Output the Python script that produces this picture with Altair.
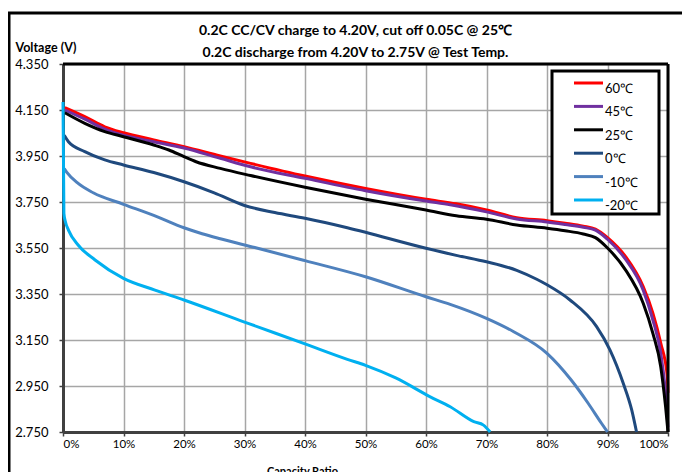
import altair as alt
import pandas as pd

# ---------------- data ----------------
series_names = ["60℃", "45℃", "25℃", "0℃", "-10℃", "-20℃"]
series_colors = ["#FF0000", "#7030A0", "#000000", "#1F497D", "#4F81BD", "#00B0F0"]

cap_60 = [0.3, 3.6, 6.9, 10, 15, 20, 26, 31, 40, 50, 60, 65, 70, 75, 80, 83, 86, 88, 90, 93, 95.9, 97.5, 98.8, 99.9, 100]
v_60 = [4.160, 4.121, 4.077, 4.051, 4.020, 3.990, 3.950, 3.918, 3.863, 3.809, 3.762, 3.742, 3.715, 3.682, 3.669, 3.658, 3.645, 3.632, 3.595, 3.512, 3.382, 3.267, 3.137, 2.990, 2.920]

cap_45 = [0.3, 3.6, 6.9, 10, 15, 20, 26, 31, 40, 50, 60, 64, 70, 75, 80, 83, 86, 88, 90, 93, 95.9, 97.5, 98.8, 99.6, 100]
v_45 = [4.150, 4.110, 4.067, 4.040, 4.012, 3.985, 3.940, 3.903, 3.853, 3.799, 3.754, 3.738, 3.707, 3.676, 3.663, 3.652, 3.640, 3.628, 3.588, 3.500, 3.367, 3.237, 3.092, 2.920, 2.770]

cap_25 = [0.3, 3.6, 6.9, 10, 15, 17.5, 20, 22, 26, 31, 40, 50, 60, 65, 70, 75, 80, 83, 86, 88, 90, 93, 95.9, 97.5, 98.8, 99.6, 100]
v_25 = [4.138, 4.092, 4.056, 4.034, 3.998, 3.976, 3.947, 3.925, 3.896, 3.865, 3.814, 3.762, 3.715, 3.690, 3.675, 3.650, 3.636, 3.625, 3.611, 3.595, 3.550, 3.454, 3.310, 3.179, 3.034, 2.860, 2.750]

cap_0 = [0.2, 0.9, 3.6, 6.9, 10, 15, 20, 25, 30, 35, 40, 47, 60, 65, 70, 75, 78.3, 80, 83.8, 88.2, 90.4, 92.6, 94, 94.8]
v_0 = [4.040, 4.012, 3.969, 3.933, 3.911, 3.878, 3.838, 3.790, 3.735, 3.704, 3.679, 3.638, 3.549, 3.518, 3.490, 3.453, 3.414, 3.390, 3.324, 3.208, 3.107, 2.962, 2.846, 2.750]

cap_m10 = [0.2, 0.6, 2.3, 5, 10, 15, 20, 23, 26, 31.7, 40, 50, 60, 64, 70, 74.5, 80, 84, 86.8, 89, 90]
v_m10 = [3.895, 3.880, 3.835, 3.790, 3.740, 3.692, 3.638, 3.612, 3.590, 3.552, 3.495, 3.425, 3.338, 3.305, 3.244, 3.186, 3.092, 2.976, 2.875, 2.788, 2.750]

cap_m20 = [0, 0.15, 0.4, 0.9, 2.5, 5.3, 10, 15.2, 20, 30, 40, 47, 50, 55, 60.7, 64, 67.9, 69.5, 70.6]
v_m20 = [4.185, 3.700, 3.664, 3.628, 3.563, 3.498, 3.418, 3.367, 3.324, 3.228, 3.133, 3.066, 3.040, 2.985, 2.903, 2.860, 2.795, 2.780, 2.750]

x_ticks = [0, 10, 20, 30, 40, 50, 60, 70, 80, 90, 100]
y_ticks = [2.75, 2.95, 3.15, 3.35, 3.55, 3.75, 3.95, 4.15, 4.35]

title_lines = ["0.2C CC/CV charge to 4.20V, cut off 0.05C @ 25℃",
               "0.2C discharge from 4.20V to 2.75V @ Test Temp."]

# ---------------- table ----------------
rows = []
for name, caps, volts in zip(series_names,
                             [cap_60, cap_45, cap_25, cap_0, cap_m10, cap_m20],
                             [v_60, v_45, v_25, v_0, v_m10, v_m20]):
    for i, (c, v) in enumerate(zip(caps, volts)):
        rows.append({"series": name, "cap": c, "volt": v, "idx": i})
df = pd.DataFrame(rows)

FONT = "Lato"
W, H = 605, 368

x_enc = alt.X("cap:Q",
              scale=alt.Scale(domain=[0, 100], nice=False, zero=False),
              axis=alt.Axis(values=x_ticks, labelExpr="datum.value + '%'",
                            title="Capacity Ratio", titleX=239, titleY=42,
                            titleBaseline="alphabetic", titleFont=FONT,
                            titleFontSize=11, titleFontWeight="bold",
                            titleColor="black",
                            labelFont=FONT, labelFontSize=11.5, labelColor="black",
                            labelPadding=2))
y_enc = alt.Y("volt:Q",
              scale=alt.Scale(domain=[2.75, 4.35], nice=False, zero=False),
              axis=alt.Axis(values=y_ticks, format=".3f",
                            title="Voltage (V)", titleAngle=0, titleX=-48, titleY=-13,
                            titleAlign="left", titleBaseline="alphabetic",
                            titleFont=FONT, titleFontSize=12.5, titleFontWeight="bold",
                            titleColor="black",
                            labelFont=FONT, labelFontSize=13, labelColor="black",
                            labelPadding=11))

lines = alt.Chart(df).mark_line(strokeWidth=3, interpolate="monotone").encode(
    x=x_enc,
    y=y_enc,
    color=alt.Color("series:N",
                    scale=alt.Scale(domain=series_names, range=series_colors),
                    sort=series_names,
                    legend=alt.Legend(title=None, orient="none", legendX=519, legendY=12.5,
                                      symbolType="M-2.9,0H2.9", symbolSize=100,
                                      symbolStrokeWidth=3, padding=0, rowPadding=3.4,
                                      labelOffset=10, labelBaseline="top",
                                      labelFont=FONT, labelFontSize=13,
                                      labelColor="black")),
    order="idx:Q",
)

one = pd.DataFrame({"k": [0]})

frame = alt.Chart(one).mark_rect(filled=False, stroke="black", strokeWidth=3).encode(
    x=alt.value(-54), x2=alt.value(700), y=alt.value(-51), y2=alt.value(500))

legend_box = alt.Chart(one).mark_rect(fill="white", stroke="black", strokeWidth=3).encode(
    x=alt.value(489), x2=alt.value(596), y=alt.value(7), y2=alt.value(150))

top_border = alt.Chart(one).mark_rule(color="black", strokeWidth=3).encode(
    x=alt.value(0), x2=alt.value(W), y=alt.value(0))
right_border = alt.Chart(one).mark_rule(color="black", strokeWidth=3).encode(
    x=alt.value(W), y=alt.value(0), y2=alt.value(H))

chart = alt.layer(frame, legend_box, lines, top_border, right_border).properties(
    width=W, height=H,
    autosize=alt.AutoSizeParams(type="none"),
    padding={"left": 55, "top": 56, "right": 14, "bottom": 40},
    title=alt.TitleParams(text=title_lines, font=FONT, fontSize=14, fontWeight="bold",
                          color="black", anchor="middle", frame="group", dx=-10,
                          offset=-48.5, lineHeight=22),
).configure_view(stroke="transparent").configure_axis(
    domainColor="#404040", domainWidth=3,
    tickColor="#404040", tickSize=4, tickWidth=1.5,
    gridColor="#a6a6a6", gridWidth=1.5,
)

chart.save("out.html", embed_options={"renderer": "svg", "actions": False})
